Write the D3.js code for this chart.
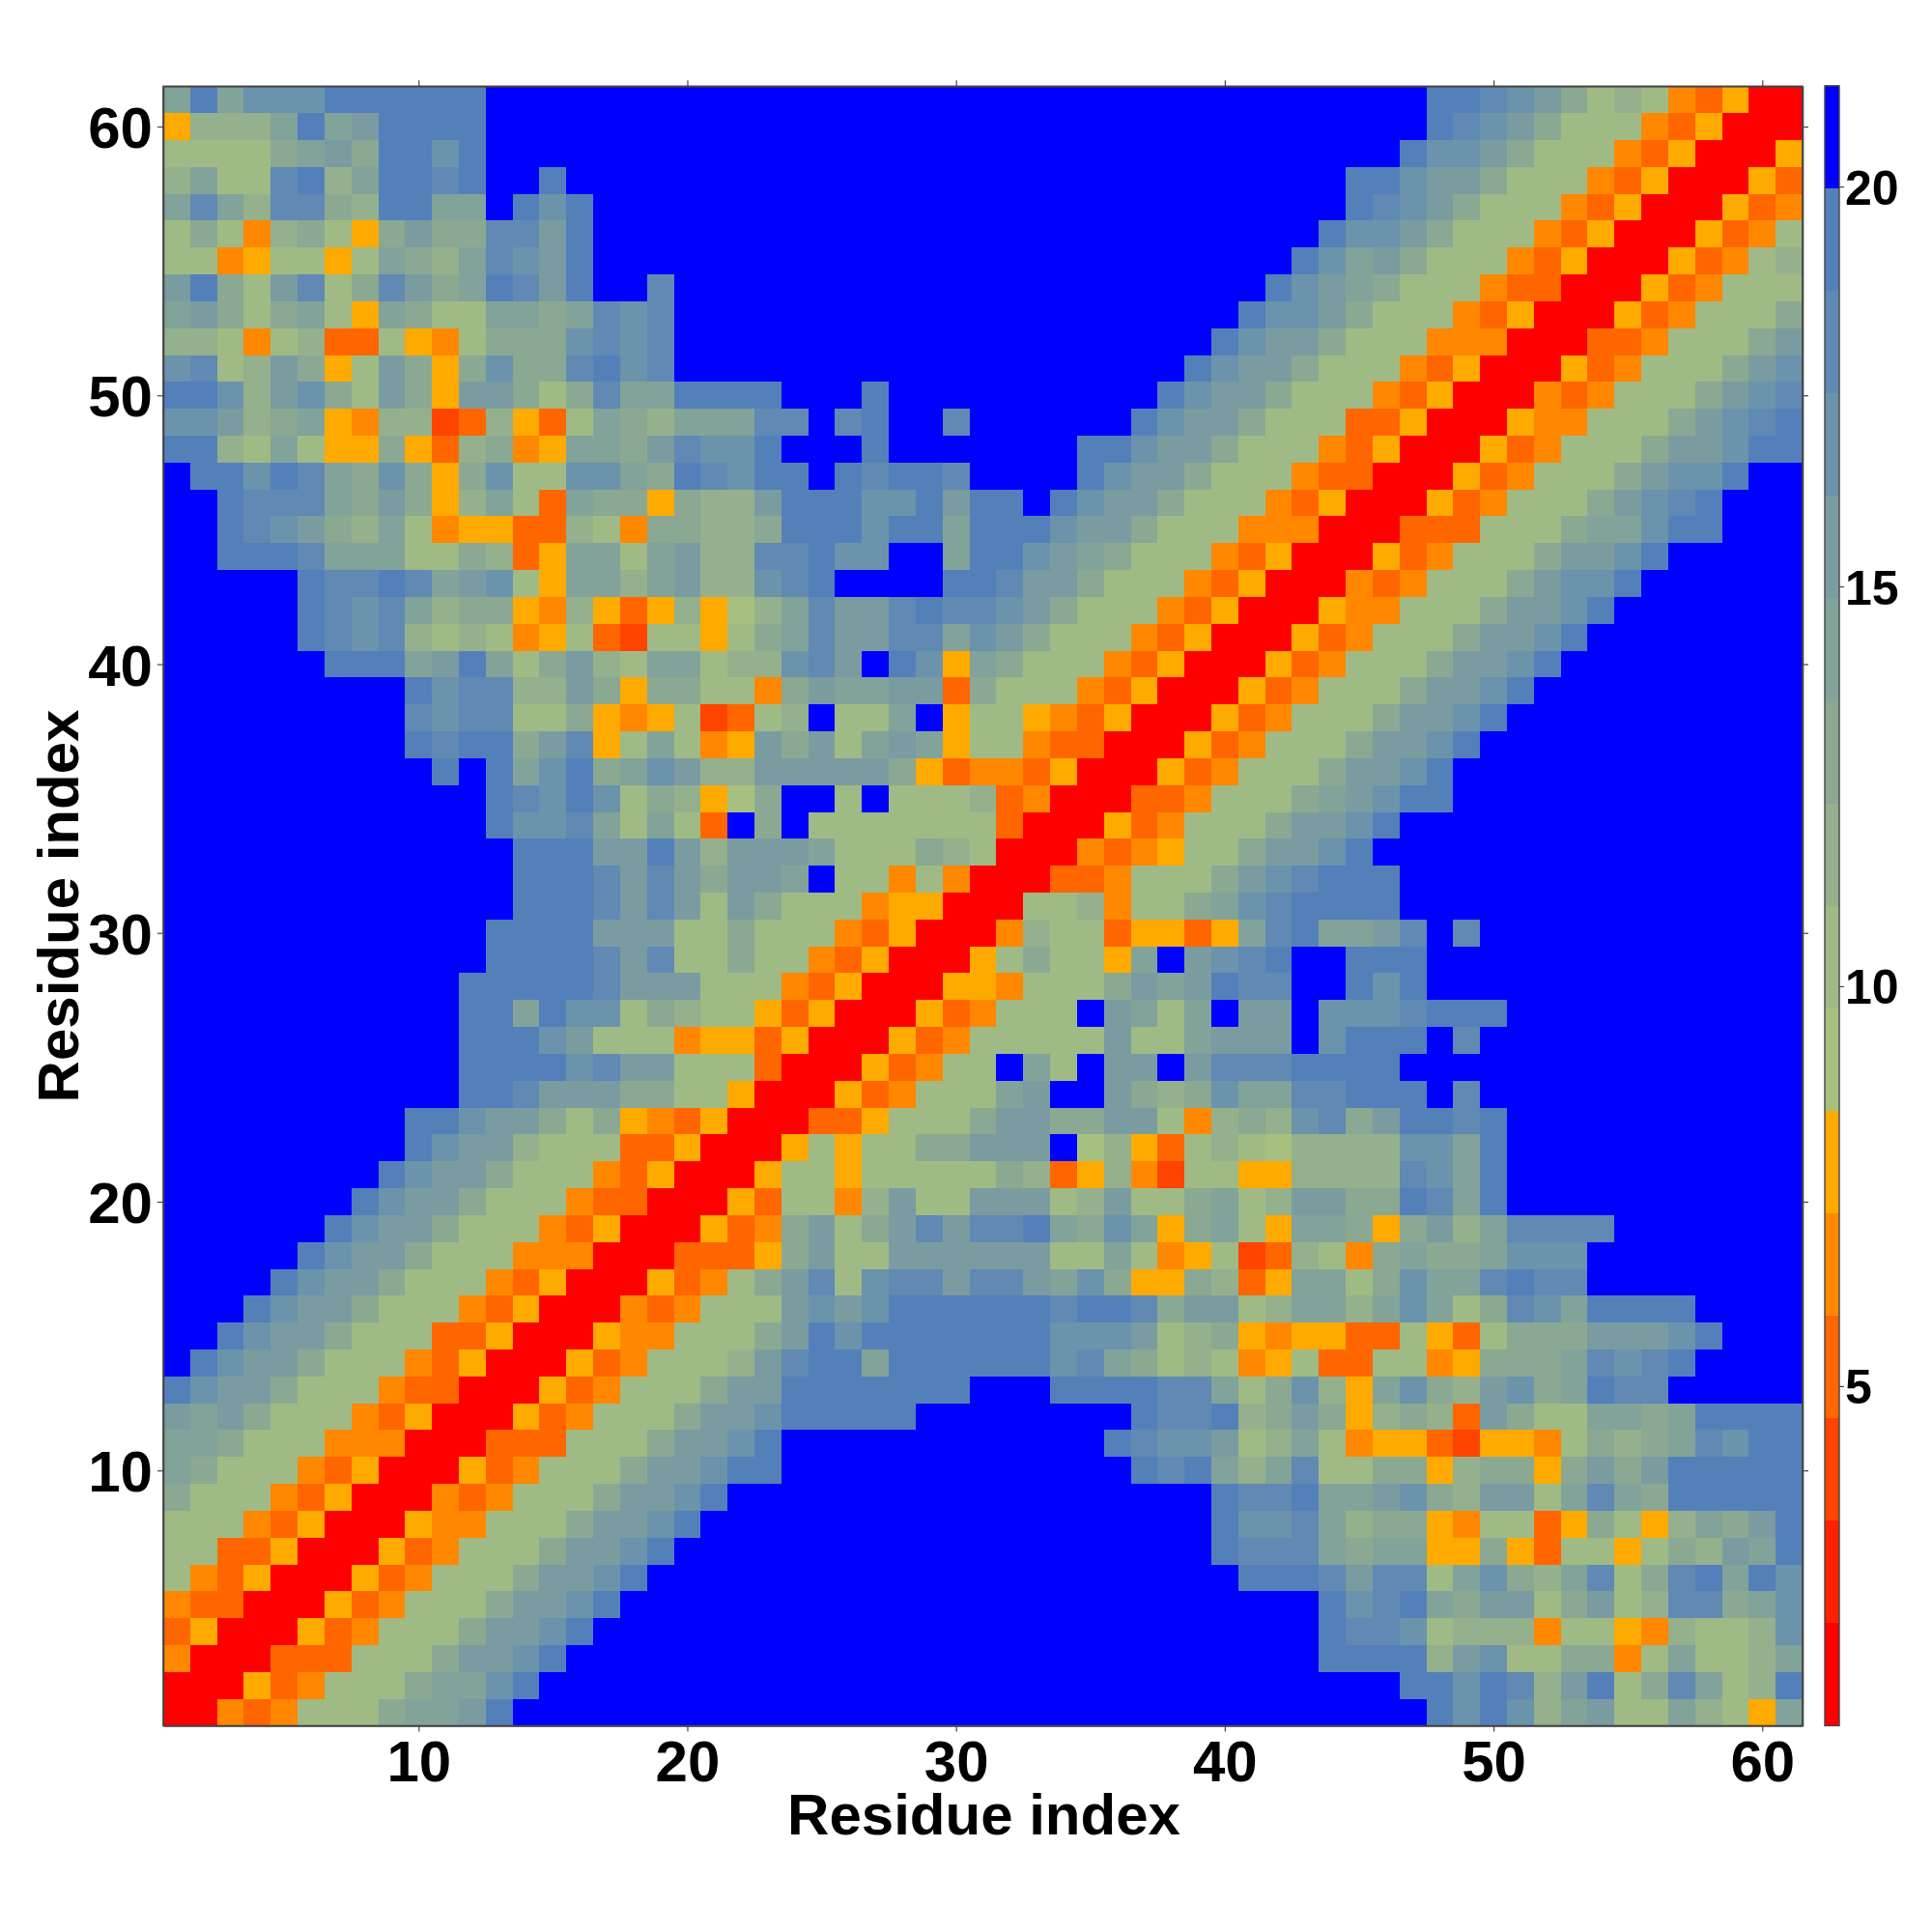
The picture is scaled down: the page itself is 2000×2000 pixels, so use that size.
<!DOCTYPE html>
<html>
<head>
<meta charset="utf-8">
<script src="https://cdn.jsdelivr.net/npm/d3@7"></script>
<style>
html,body{margin:0;padding:0;background:#fff}
svg{display:block}
text{font-family:"Liberation Sans",Arimo,Helvetica,Arial,sans-serif;font-weight:700;fill:#000}
</style>
</head>
<body>
<svg id="chart" width="2000" height="2000"></svg>
<script>
// Symmetric residue distance map: each row holds the level digits from the diagonal outward,
// "|" separates the near part from the far part that ends at residue 61; the gap is level f.
const upperRows = [
"004347779aabe|ecec8ab77a875a",
"005347779aace|eeced8be79da78e",
"003337779bbce|eeee8bc779947a778a",
"005347779bbce|eddc7888477548778c",
"005347779bbce|ecdea9bb79b78dd9ac",
"005347779bbce|eeedbdd7ac98ad79deaec",
"005347779bbce|eddda9aa55953775798bae",
"005447779bbce|eccda8995477359758a9be",
"004347779bbce|eddeaabc98bb7ada9eeeee",
"005347779bbcee|edea8ad7799589959b9beeeee",
"003337779bbce|edccb78a7455325547989adcee",
"005347779bbceeeee|edde89b958983b977aa9aeeee",
"005347779bbeeeeeee|eeeedda79c85ac98bc9aeddfffff",
"005347778bdeeaeeeeeecda9787457337745999adcdeffff",
"005447779beceeeeeeecccb7895455337537999bbbcefff",
"00434777bcbceeeeeedeed9bb78aa8aca79dcaeeeeffff",
"0053479bd7cddbddbac9559835aa79caadedd",
"0033359b77bbbbbb77a7457238749a99accc",
"005349b79bdbddea9ca59a75aa959b8adddd",
"00537748b77bbb78b779a78bb99edae",
"00577577777983584277558888dcae",
"005757799bbbf685378768888ccae",
"003357779bb99bb74898cd9beede",
"00534777abffb989caaddeeefd",
"0053477fa7fbbfbdddeeee",
"0053477777b77abbbfceeefd",
"00534777fba7afbbfcccdeee",
"005547779babeddffece",
"00579775afbcdeffeee",
"00487735535adeaabdfd",
"007784779acdeeee",
"003347779bcdeee",
"004345779bbce",
"005347779bbce",
"003347779abcee",
"005347779bbce",
"005347779bbce",
"005347779bbce",
"005347779bbce",
"005347779bbce",
"005347779bbce",
"005447779bbce",
"004347779bcce",
"005347779bbce",
"003337779aacee",
"005347779bcde",
"005347779bcce",
"005347779bbcee",
"005447779bcde",
"004347779bcd",
"005347779bc",
"003347779b",
"005347779",
"00534777",
"0053478",
"005347",
"00534",
"0053",
"005",
"00",
"0"
];
const levelColors = ["#ff0000","#ff2200","#ff4400","#ff6600","#ff8800","#ffaa00",
  "#a8c07f","#a0ba85","#95b08c","#8ba892","#82a399","#7a9ca1","#6b93ac","#6089b3","#5480ba","#0000ff"];
const tickValues = [10,20,30,40,50,60];
const barTicks = [5,10,15,20];
const residueCount = 61;
const barRange = [0.754,21.26];
const axisTitle = "Residue index";

const expand = (row,y)=>{
  const [near,far=""] = row.split("|");
  const len = residueCount-y+1;
  return near + "f".repeat(Math.max(0,len-near.length-far.length)) + far;
};
const cells=[];
upperRows.forEach((row,i)=>{
  const y=i+1, s=expand(row,y);
  for(let k=0;k<s.length;k++){
    const x=y+k, level=parseInt(s[k],16);
    cells.push({x,y,level});
    if(x!==y) cells.push({x:y,y:x,level});
  }
});

const L=169,R=1866,T=89.3,B=1786.5;
const x=d3.scaleLinear().domain([0.5,residueCount+0.5]).range([L,R]);
const y=d3.scaleLinear().domain([0.5,residueCount+0.5]).range([B,T]);
const svg=d3.select("#chart");

svg.append("g").attr("shape-rendering","crispEdges").selectAll("rect").data(cells).join("rect")
  .attr("x",d=>x(d.x-0.5)).attr("y",d=>y(d.y+0.5))
  .attr("width",d=>x(d.x+0.5)-x(d.x-0.5)).attr("height",d=>y(d.y-0.5)-y(d.y+0.5))
  .attr("fill",d=>levelColors[d.level]);

const style=(g,size)=>{
  g.selectAll(".domain").attr("stroke","#444").attr("stroke-width",1.6);
  g.selectAll(".tick line").attr("stroke","#444").attr("stroke-width",1.2);
  g.selectAll("text").attr("font-size",size).attr("font-family",null);
};
const fmt=d3.format("d");
svg.append("g").attr("transform",`translate(0,${B})`)
  .call(d3.axisBottom(x).tickValues(tickValues).tickFormat(fmt).tickSize(6).tickSizeOuter(0).tickPadding(9))
  .call(g=>style(g,60));
svg.append("g").attr("transform",`translate(${L},0)`)
  .call(d3.axisLeft(y).tickValues(tickValues).tickFormat(fmt).tickSize(6).tickSizeOuter(0).tickPadding(5))
  .call(g=>style(g,60)).call(g=>g.selectAll("text").attr("dy","0.36em"));
svg.append("g").attr("transform",`translate(0,${T})`)
  .call(d3.axisTop(x).tickValues(tickValues).tickFormat("").tickSize(6).tickSizeOuter(0))
  .call(g=>style(g,60));
svg.append("g").attr("transform",`translate(${R},0)`)
  .call(d3.axisRight(y).tickValues(tickValues).tickFormat("").tickSize(6).tickSizeOuter(0))
  .call(g=>style(g,60));

svg.append("text").attr("x",1018.5).attr("y",1899).attr("text-anchor","middle").attr("font-size",60).text(axisTitle);
svg.append("text").attr("transform","translate(81,938) rotate(-90)").attr("text-anchor","middle").attr("font-size",60).text(axisTitle);

// colour bar
const barL=1889,barR=1904,barT=88.8,barB=1786.4;
const barY=d3.scaleLinear().domain(barRange).range([barB,barT]);
const step=(barRange[1]-barRange[0])/levelColors.length;
svg.append("g").attr("shape-rendering","crispEdges").selectAll("rect").data(levelColors).join("rect")
  .attr("x",barL).attr("width",barR-barL)
  .attr("y",(c,i)=>barY(barRange[0]+(i+1)*step))
  .attr("height",(c,i)=>barY(barRange[0]+i*step)-barY(barRange[0]+(i+1)*step))
  .attr("fill",c=>c);
svg.append("rect").attr("x",barL).attr("y",barT).attr("width",barR-barL).attr("height",barB-barT)
  .attr("fill","none").attr("stroke","#444").attr("stroke-width",1.4);
svg.append("g").attr("transform",`translate(${barR},0)`)
  .call(d3.axisRight(barY).tickValues(barTicks).tickFormat(fmt).tickSize(5).tickSizeOuter(0).tickPadding(1))
  .call(g=>style(g,50)).call(g=>g.select(".domain").remove()).call(g=>g.selectAll("text").attr("dy","0.36em"));

svg.append("rect").attr("x",L).attr("y",T).attr("width",R-L).attr("height",B-T)
  .attr("fill","none").attr("stroke","#444").attr("stroke-width",1.6);
</script>
</body>
</html>
